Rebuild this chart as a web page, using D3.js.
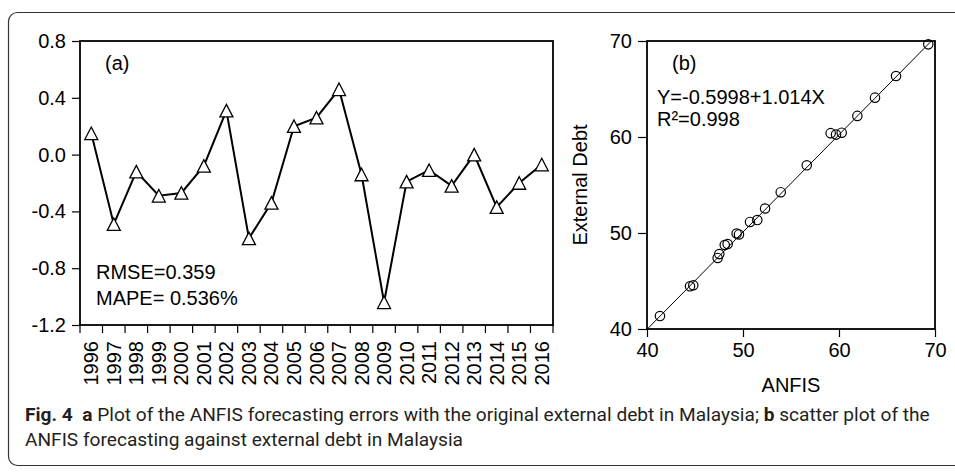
<!DOCTYPE html>
<html><head><meta charset="utf-8">
<script src="https://cdn.jsdelivr.net/npm/d3@7"></script>
<style>body{margin:0;background:#fff} svg{display:block}</style>
</head><body><svg id="c" width="955" height="473"></svg>
<script>
// ---------------- data ----------------
const years = ["1996","1997","1998","1999","2000","2001","2002","2003","2004","2005","2006",
               "2007","2008","2009","2010","2011","2012","2013","2014","2015","2016"];
const errors = [0.15,-0.49,-0.12,-0.29,-0.27,-0.08,0.31,-0.59,-0.34,0.20,0.26,
                0.46,-0.14,-1.04,-0.19,-0.11,-0.22,0.00,-0.37,-0.20,-0.07];
const errorTicks = [0.8,0.4,0.0,-0.4,-0.8,-1.2];

const anfis = [41.35,44.48,44.82,47.36,47.53,48.10,48.40,49.34,49.58,50.73,51.49,
               52.30,53.93,56.64,59.13,59.69,60.28,61.91,63.75,65.94,69.30];
const debt  = [41.35,44.45,44.55,47.40,47.80,48.75,48.85,49.95,49.85,51.15,51.35,
               52.55,54.25,57.05,60.40,60.25,60.45,62.20,64.10,66.35,69.65];
const scatterTicks = [40,50,60,70];
const regIntercept = -0.5998, regSlope = 1.014;

// ---------------- setup ----------------
const svg = d3.select("#c");
const FONT = "'Liberation Sans', Arial, Helvetica, sans-serif";
const FS = 20;

// outer rounded frame
svg.append("rect").attr("x",8.5).attr("y",12.5).attr("width",1000).attr("height",453)
  .attr("rx",9).attr("fill","none").attr("stroke","#333").attr("stroke-width",1.2);

// ---------------- panel (a) ----------------
const A = {l:80, r:553, t:41, b:325};
const xa = d3.scaleBand().domain(years).range([A.l, A.r]).padding(0);
const ya = d3.scaleLinear().domain([-1.2, 0.8]).range([A.b, A.t]);
const ga = svg.append("g");

const yAxA = ga.append("g").attr("transform",`translate(${A.l},0)`)
  .call(d3.axisLeft(ya).tickValues(errorTicks).tickFormat(d=>d.toFixed(1)).tickSize(8).tickPadding(6));
yAxA.select(".domain").remove();

const xAxA = ga.append("g").attr("transform",`translate(0,${A.b})`)
  .call(d3.axisBottom(xa).tickSize(0).tickPadding(0));
xAxA.select(".domain").remove();
xAxA.selectAll(".tick line").remove();
xAxA.selectAll(".tick text")
  .attr("transform","rotate(-90)").attr("text-anchor","end")
  .attr("x",-16).attr("y",0).attr("dy","0.35em");
// boundary ticks
const bounds = years.map(d=>xa(d)).concat([xa.range()[1]]);
ga.append("g").selectAll("line").data(bounds).join("line")
  .attr("x1",d=>d).attr("x2",d=>d).attr("y1",A.b).attr("y2",A.b+8)
  .attr("stroke","#000").attr("stroke-width",1.2);

[yAxA,xAxA].forEach(g=>g.attr("font-family",FONT).attr("font-size",FS)
  .selectAll("text").attr("fill","#000"));
yAxA.selectAll(".tick line").attr("stroke","#000").attr("stroke-width",1.2);

ga.append("rect").attr("x",A.l).attr("y",A.t).attr("width",A.r-A.l).attr("height",A.b-A.t)
  .attr("fill","none").attr("stroke","#000").attr("stroke-width",1.8);

const cx = d => xa(d) + xa.bandwidth()/2;
ga.append("path").datum(errors)
  .attr("d", d3.line().x((d,i)=>cx(years[i])).y(d=>ya(d)))
  .attr("fill","none").attr("stroke","#000").attr("stroke-width",2);

const triW = 13, triH = 12.5;
ga.append("g").selectAll("path").data(errors).join("path")
  .attr("transform",(d,i)=>`translate(${cx(years[i])},${ya(d)})`)
  .attr("d",`M0,${-triH/2}L${triW/2},${triH/2}L${-triW/2},${triH/2}Z`)
  .attr("fill","#fff").attr("stroke","#000").attr("stroke-width",1.3);

const ta = ga.append("g").attr("font-family",FONT).attr("font-size",FS).attr("fill","#000");
ta.append("text").attr("x",105).attr("y",70).text("(a)");
ta.append("text").attr("x",96).attr("y",279).text("RMSE=0.359");
ta.append("text").attr("x",96).attr("y",305).style("white-space","pre").text("MAPE= 0.536%");

// ---------------- panel (b) ----------------
const B = {l:647, r:935, t:41, b:329};
const xb = d3.scaleLinear().domain([40,70]).range([B.l, B.r]);
const yb = d3.scaleLinear().domain([40,70]).range([B.b, B.t]);
const gb = svg.append("g");

const yAxB = gb.append("g").attr("transform",`translate(${B.l},0)`)
  .call(d3.axisLeft(yb).tickValues(scatterTicks).tickSize(9).tickPadding(6));
const xAxB = gb.append("g").attr("transform",`translate(0,${B.b})`)
  .call(d3.axisBottom(xb).tickValues(scatterTicks).tickSize(8).tickPadding(6));
[yAxB,xAxB].forEach(g=>{
  g.select(".domain").remove();
  g.attr("font-family",FONT).attr("font-size",FS);
  g.selectAll("text").attr("fill","#000");
  g.selectAll(".tick line").attr("stroke","#000").attr("stroke-width",1.2);
});

gb.append("clipPath").attr("id","clipb").append("rect")
  .attr("x",B.l).attr("y",B.t).attr("width",B.r-B.l).attr("height",B.b-B.t);
gb.append("line")
  .attr("x1",xb(40)).attr("y1",yb(regIntercept+regSlope*40))
  .attr("x2",xb(70)).attr("y2",yb(regIntercept+regSlope*70))
  .attr("clip-path","url(#clipb)")
  .attr("stroke","#000").attr("stroke-width",1);

gb.append("g").selectAll("circle").data(anfis).join("circle")
  .attr("cx",d=>xb(d)).attr("cy",(d,i)=>yb(debt[i])).attr("r",4.7)
  .attr("fill","none").attr("stroke","#000").attr("stroke-width",1.2);

gb.append("rect").attr("x",B.l).attr("y",B.t).attr("width",B.r-B.l).attr("height",B.b-B.t)
  .attr("fill","none").attr("stroke","#000").attr("stroke-width",1.8);

const tb = gb.append("g").attr("font-family",FONT).attr("font-size",FS).attr("fill","#000");
tb.append("text").attr("x",672).attr("y",70).text("(b)");
tb.append("text").attr("x",657).attr("y",104).text("Y=-0.5998+1.014X");
tb.append("text").attr("x",657).attr("y",126).text("R²=0.998");
tb.append("text").attr("x",(B.l+B.r)/2).attr("y",392).attr("text-anchor","middle").text("ANFIS");
tb.append("text").attr("transform",`translate(587,${(B.t+B.b)/2}) rotate(-90)`)
  .attr("text-anchor","middle").text("External Debt");

// ---------------- caption ----------------
const CF = "Roboto, 'Noto Sans', sans-serif";
const cap = svg.append("g").attr("font-family",CF).attr("font-size",17).attr("fill","#231f20");
const l1 = cap.append("text").attr("x",25).attr("y",421).style("white-space","pre");
l1.append("tspan").attr("font-weight","bold").text("Fig. 4");
l1.append("tspan").text("  ");
l1.append("tspan").attr("font-weight","bold").text("a");
l1.append("tspan").text(" Plot of the ANFIS forecasting errors with the original external debt in Malaysia; ");
l1.append("tspan").attr("font-weight","bold").text("b");
l1.append("tspan").text(" scatter plot of the");
const l2 = cap.append("text").attr("x",25).attr("y",446).text("ANFIS forecasting against external debt in Malaysia");
const w1 = l1.node().getComputedTextLength();
cap.attr("font-size", 17 * 905 / w1);
</script></body></html>
